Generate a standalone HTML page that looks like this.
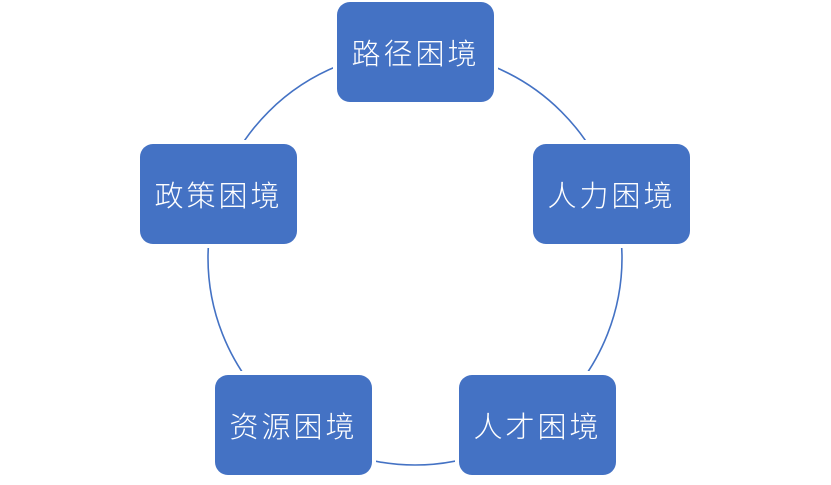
<!DOCTYPE html>
<html><head><meta charset="utf-8"><style>
body{margin:0;width:831px;height:485px;background:#fff;position:relative;overflow:hidden}
.b{position:absolute;width:157px;height:100px;background:#4472C4;border-radius:13px;color:#fff;font:300 29px "Liberation Sans","Noto Sans CJK SC",sans-serif;display:flex;align-items:center;justify-content:center;letter-spacing:3px;box-shadow:0 0 0 4px #fff}
</style></head><body>
<svg width="831" height="485" style="position:absolute;left:0;top:0"><circle cx="415" cy="258" r="207" fill="none" stroke="#4472C4" stroke-width="1.6"/></svg>
<div class="b" style="left:337px;top:2px">路径困境</div>
<div class="b" style="left:533px;top:144px">人力困境</div>
<div class="b" style="left:140px;top:144px">政策困境</div>
<div class="b" style="left:215px;top:375px">资源困境</div>
<div class="b" style="left:459px;top:375px">人才困境</div>
</body></html>
